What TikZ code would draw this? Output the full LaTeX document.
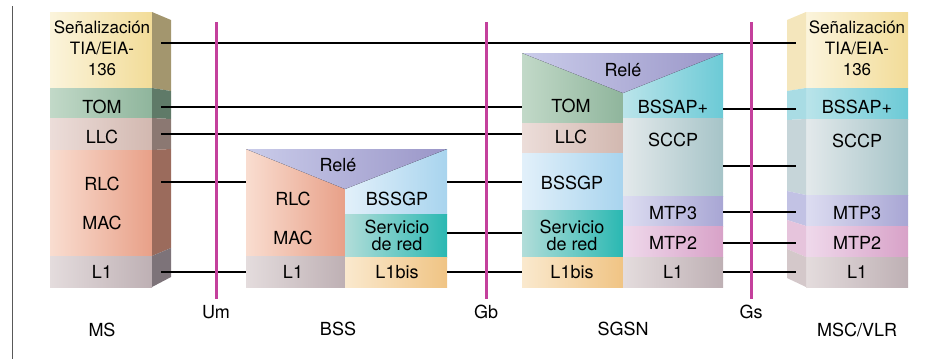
\documentclass[tikz,border=0pt]{standalone}
\usepackage{fontspec}
\setmainfont{TeX Gyre Heros}
\usepackage{xcolor}
\usetikzlibrary{positioning}

% layer colours (left / right of the gradient, S/T for the side faces)
\definecolor{sigL}{HTML}{FBF4DC}\definecolor{sigR}{HTML}{F2DC98}
\definecolor{tomL}{HTML}{C2D9C8}\definecolor{tomR}{HTML}{8FB59C}
\definecolor{llcL}{HTML}{ECDDD9}\definecolor{llcR}{HTML}{D2B8B0}
\definecolor{rlcL}{HTML}{F9DDD0}\definecolor{rlcR}{HTML}{E8A088}
\definecolor{loneL}{HTML}{E4DCDD}\definecolor{loneR}{HTML}{BEB0B4}
\definecolor{releL}{HTML}{CACCEA}\definecolor{releR}{HTML}{9A96C8}
\definecolor{bgpL}{HTML}{E2F0FA}\definecolor{bgpR}{HTML}{A8D4EE}
\definecolor{servL}{HTML}{B2DDD9}\definecolor{servR}{HTML}{2AB8B2}
\definecolor{lbisL}{HTML}{FAE9CE}\definecolor{lbisR}{HTML}{F0C484}
\definecolor{bssapL}{HTML}{BAE4EA}\definecolor{bssapR}{HTML}{6CCAD6}
\definecolor{sccpL}{HTML}{E3E9EB}\definecolor{sccpR}{HTML}{A6C4C8}
\definecolor{mtpcL}{HTML}{DDDDF1}\definecolor{mtpcR}{HTML}{A8A6D4}
\definecolor{mtpbL}{HTML}{EFD9EB}\definecolor{mtpbR}{HTML}{D8A2C8}
\definecolor{sigS}{HTML}{A3966E}\definecolor{tomS}{HTML}{5F7A68}
\definecolor{llcS}{HTML}{8B7872}\definecolor{rlcS}{HTML}{9B6B5C}
\definecolor{loneS}{HTML}{7D7379}
\definecolor{sigT}{HTML}{F4E6BC}\definecolor{bssapT}{HTML}{A9DCE4}
\definecolor{sccpT}{HTML}{C6D5D9}\definecolor{mtpcT}{HTML}{C2C2E4}
\definecolor{mtpbT}{HTML}{E6C4DC}\definecolor{loneT}{HTML}{D4C8CA}
\definecolor{ifcol}{HTML}{C4409C}

\begin{document}
\begin{tikzpicture}[x=1pt, y=-1pt,
	lay/.style 2 args={left color=#1, right color=#2, draw=none},
	txt/.style={font=\fontsize{18}{21}\selectfont, align=center, inner sep=0pt},
	twoline/.style={txt, font=\fontsize{18}{17}\selectfont},
	link/.style={line width=1.6pt},
	iface/.style={line width=3pt, color=ifcol}]
	\useasboundingbox (0,0) rectangle (928,359);
	\draw[black!65, line width=1pt] (12,6) -- (12,359);

	% MS
	\foreach \ya/\yb/\c in {12/88/sig, 88/118/tom, 118/150/llc, 150/256/rlc, 256/287/lone}
		\fill[lay={\c L}{\c R}] (50,\ya) rectangle (152,\yb);
	\foreach \ya/\yb/\za/\zb/\c in {12/88/20/91/sigS, 88/118/91/119/tomS, 118/150/119/149/llcS, 150/256/149/248/rlcS, 256/287/248/277/loneS}
		\fill[\c] (152,\ya) -- (171,\za) -- (171,\zb) -- (152,\yb) -- cycle;
	\node[txt, font=\fontsize{17}{21}\selectfont] (msSig) at (102,48) {Señalización\\TIA/EIA-\\136};
	\node[txt] (msTom) at (102,107) {TOM};
	\node[txt] (msLlc) at (102,137) {LLC};
	\node[txt] (msRlc) at (102,184) {RLC};
	\node[txt] (msMac) at (102,223) {MAC};
	\node[txt] (msLone) at (102,272) {L1};
	\node[txt] (ms) at (102,330) {MS};

	% BSS
	\fill[lay={rlcL}{rlcR}] (246,149) rectangle (345,256);
	\fill[lay={loneL}{loneR}] (246,256) rectangle (345,287);
	\fill[lay={bgpL}{bgpR}] (345,149) rectangle (447,214);
	\fill[lay={servL}{servR}] (345,214) rectangle (447,257);
	\fill[lay={lbisL}{lbisR}] (345,257) rectangle (447,287);
	\fill[lay={releL}{releR}] (246,149) -- (447,149) -- (345,189) -- cycle;
	\node[txt] (bssRele) at (338,165) {Relé};
	\node[txt] (bssRlc) at (293,199) {RLC};
	\node[txt] (bssMac) at (293,238) {MAC};
	\node[txt] (bssLone) at (293,272) {L1};
	\node[txt] (bssBgp) at (397,199) {BSSGP};
	\node[twoline] (bssServ) at (397,235) {Servicio\\de red};
	\node[txt] (bssLbis) at (397,272) {L1bis};
	\node[txt] (bss) at (338,329) {BSS};

	% SGSN
	\foreach \ya/\yb/\c in {53/123/tom, 123/153/llc, 153/210/bgp, 210/257/serv, 257/287/lbis}
		\fill[lay={\c L}{\c R}] (522,\ya) rectangle (623,\yb);
	\foreach \ya/\yb/\c in {53/118/bssap, 118/196/sccp, 196/226/mtpc, 226/257/mtpb, 257/287/lone}
		\fill[lay={\c L}{\c R}] (623,\ya) rectangle (723,\yb);
	\fill[lay={releL}{releR}] (522,53) -- (723,53) -- (623,93) -- cycle;
	\node[txt] (sgRele) at (623,70) {Relé};
	\node[txt] (sgTom) at (571,106) {TOM};
	\node[txt] (sgLlc) at (571,137) {LLC};
	\node[txt] (sgBgp) at (572,183) {BSSGP};
	\node[twoline] (sgServ) at (572,235) {Servicio\\de red};
	\node[txt] (sgLbis) at (572,272) {L1bis};
	\node[txt] (sgBssap) at (673,107) {BSSAP+};
	\node[txt] (sgSccp) at (673,140) {SCCP};
	\node[txt] (sgMtpc) at (673,213) {MTP3};
	\node[txt] (sgMtpb) at (673,243) {MTP2};
	\node[txt] (sgLone) at (673,272) {L1};
	\node[txt] (sgsn) at (623,329) {SGSN};

	% MSC/VLR
	\foreach \ya/\yb/\c in {12/88/sig, 88/119/bssap, 119/195/sccp, 195/226/mtpc, 226/257/mtpb, 257/287/lone}
		\fill[lay={\c L}{\c R}] (806,\ya) rectangle (908,\yb);
	\foreach \ya/\yb/\za/\zb/\c in {12/88/20/91/sigT, 88/119/91/120/bssapT, 119/195/120/191/sccpT, 195/226/191/220/mtpcT, 226/257/220/249/mtpbT, 257/287/249/278/loneT}
		\fill[\c] (806,\ya) -- (787,\za) -- (787,\zb) -- (806,\yb) -- cycle;
	\node[txt, font=\fontsize{17}{21}\selectfont] (mscSig) at (857,48) {Señalización\\TIA/EIA-\\136};
	\node[txt] (mscBssap) at (857,107) {BSSAP+};
	\node[txt] (mscSccp) at (857,141) {SCCP};
	\node[txt] (mscMtpc) at (857,213) {MTP3};
	\node[txt] (mscMtpb) at (857,243) {MTP2};
	\node[txt] (mscLone) at (857,272) {L1};
	\node[txt] (msc) at (857,330) {MSC/VLR};

	% ports
	\foreach \n/\y in {sig/43, tom/107, llc/134, rlc/182, lone/272}
		\coordinate (ms-\n) at (161,\y);
	\foreach \n/\y in {rlc/182, lone/272}
		\coordinate (bssA-\n) at (246,\y);
	\foreach \n/\y in {bgp/182, serv/233, lbis/272}
		\coordinate (bssB-\n) at (447,\y);
	\foreach \n/\y in {tom/107, llc/134, bgp/182, serv/233, lbis/272}
		\coordinate (sgA-\n) at (522,\y);
	\foreach \n/\y in {bssap/109, sccp/166, mtpc/212, mtpb/243, lone/272}
		\coordinate (sgB-\n) at (723,\y);
	\foreach \n/\y in {sig/43, bssap/109, sccp/166, mtpc/212, mtpb/243, lone/272}
		\coordinate (msc-\n) at (796,\y);

	% peer links
	\foreach \a/\b in {ms-sig/msc-sig, ms-tom/sgA-tom, ms-llc/sgA-llc, ms-rlc/bssA-rlc, ms-lone/bssA-lone,
		bssB-bgp/sgA-bgp, bssB-serv/sgA-serv, bssB-lbis/sgA-lbis,
		sgB-bssap/msc-bssap, sgB-sccp/msc-sccp, sgB-mtpc/msc-mtpc, sgB-mtpb/msc-mtpb, sgB-lone/msc-lone}
		\draw[link] (\a) -- (\b);

	% interfaces
	\foreach \n/\x in {Um/216, Gb/486, Gs/751} {
		\coordinate (top\n) at (\x,22);
		\node[txt] (lab\n) at (\x,312) {\n};
		\draw[iface] (top\n) -- (\x,299);
	}
\end{tikzpicture}
\end{document}
